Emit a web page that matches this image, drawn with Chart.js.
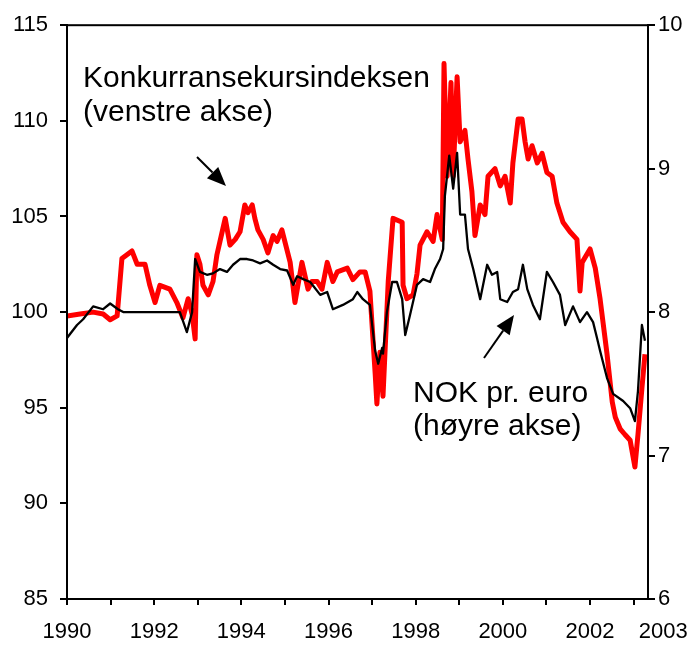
<!DOCTYPE html>
<html>
<head>
<meta charset="utf-8">
<script src="https://cdn.jsdelivr.net/npm/chart.js@4.4.1/dist/chart.umd.min.js"></script>
<style>
    body { margin: 0; background: #fff; }
    #wrap { width: 692px; height: 648px; }
</style>
</head>
<body>
<div id="wrap"><canvas id="kursChart"></canvas></div>
<script>
// Konkurransekursindeksen (venstre akse)
var redYears = [1990.00, 1990.30, 1990.60, 1990.83, 1990.99, 1991.15, 1991.26, 1991.49, 1991.61, 1991.79,
    1991.90, 1992.02, 1992.13, 1992.36, 1992.52, 1992.66, 1992.78, 1992.87, 1992.94, 1992.98,
    1993.05, 1993.12, 1993.24, 1993.35, 1993.44, 1993.51, 1993.63, 1993.74, 1993.86, 1993.97,
    1994.08, 1994.15, 1994.25, 1994.31, 1994.38, 1994.50, 1994.61, 1994.73, 1994.82, 1994.93,
    1995.12, 1995.23, 1995.39, 1995.53, 1995.62, 1995.74, 1995.85, 1995.97, 1996.10, 1996.20,
    1996.43, 1996.56, 1996.72, 1996.84, 1996.95, 1997.07, 1997.11, 1997.18, 1997.25, 1997.37,
    1997.48, 1997.69, 1997.71, 1997.80, 1997.94, 1998.03, 1998.10, 1998.26, 1998.40, 1998.49,
    1998.61, 1998.65, 1998.72, 1998.81, 1998.86, 1998.95, 1999.02, 1999.13, 1999.20, 1999.29,
    1999.36, 1999.48, 1999.59, 1999.66, 1999.82, 1999.94, 2000.05, 2000.17, 2000.23, 2000.35,
    2000.44, 2000.51, 2000.58, 2000.67, 2000.79, 2000.90, 2001.01, 2001.13, 2001.24, 2001.38,
    2001.54, 2001.70, 2001.77, 2001.82, 2002.00, 2002.12, 2002.23, 2002.39, 2002.51, 2002.58,
    2002.69, 2002.80, 2002.92, 2003.03, 2003.10, 2003.19, 2003.26];
var redValues = [99.8, 99.9, 100.0, 99.9, 99.6, 99.8, 102.8, 103.2, 102.5, 102.5,
    101.4, 100.5, 101.4, 101.2, 100.5, 99.7, 100.7, 99.9, 98.6, 103.0,
    102.5, 101.4, 100.9, 101.6, 103.0, 103.7, 104.9, 103.5, 103.8, 104.2,
    105.6, 105.2, 105.6, 104.9, 104.3, 103.8, 103.1, 104.0, 103.7, 104.3,
    102.6, 100.5, 102.6, 101.2, 101.6, 101.6, 101.2, 102.6, 101.6, 102.1,
    102.3, 101.7, 102.1, 102.1, 101.1, 96.8, 95.2, 97.9, 95.6, 101.6,
    104.9, 104.7, 101.4, 100.7, 100.9, 102.0, 103.5, 104.2, 103.7, 105.1,
    103.8, 113.0, 107.1, 112.0, 107.1, 112.3, 108.9, 109.5, 108.0, 106.3,
    104.0, 105.6, 105.1, 107.1, 107.5, 106.6, 107.1, 105.7, 107.8, 110.1,
    110.1, 108.9, 108.0, 108.7, 107.8, 108.3, 107.3, 107.1, 105.7, 104.7,
    104.2, 103.8, 101.1, 102.6, 103.3, 102.3, 100.7, 97.8, 95.3, 94.5,
    93.9, 93.6, 93.3, 91.9, 93.6, 96.0, 97.8];

// NOK pr. euro (høyre akse)
var nokYears = [1990.00, 1990.23, 1990.37, 1990.60, 1990.83, 1990.99, 1991.17, 1991.29, 1991.90, 1992.59,
    1992.75, 1992.87, 1992.94, 1993.05, 1993.21, 1993.35, 1993.51, 1993.67, 1993.81, 1993.97,
    1994.13, 1994.27, 1994.43, 1994.59, 1994.73, 1994.89, 1995.05, 1995.19, 1995.28, 1995.42,
    1995.58, 1995.81, 1995.97, 1996.10, 1996.33, 1996.56, 1996.66, 1996.79, 1996.95, 1997.07,
    1997.14, 1997.23, 1997.25, 1997.34, 1997.46, 1997.57, 1997.69, 1997.76, 1997.87, 1998.03,
    1998.17, 1998.33, 1998.44, 1998.56, 1998.63, 1998.67, 1998.77, 1998.86, 1998.95, 1999.02,
    1999.13, 1999.20, 1999.32, 1999.48, 1999.64, 1999.75, 1999.87, 1999.94, 2000.10, 2000.23,
    2000.35, 2000.46, 2000.56, 2000.69, 2000.85, 2001.01, 2001.15, 2001.31, 2001.43, 2001.61,
    2001.77, 2001.93, 2002.07, 2002.16, 2002.23, 2002.39, 2002.53, 2002.76, 2002.92, 2003.03,
    2003.10, 2003.19, 2003.26];
var nokValues = [7.82, 7.91, 7.95, 8.04, 8.02, 8.06, 8.02, 8.00, 8.00, 8.00,
    7.86, 8.00, 8.37, 8.28, 8.26, 8.27, 8.30, 8.28, 8.33, 8.37,
    8.37, 8.36, 8.34, 8.36, 8.33, 8.30, 8.29, 8.19, 8.25, 8.23,
    8.21, 8.12, 8.14, 8.02, 8.05, 8.09, 8.14, 8.09, 8.05, 7.73,
    7.64, 7.75, 7.71, 8.00, 8.21, 8.21, 8.09, 7.84, 7.98, 8.19,
    8.23, 8.21, 8.30, 8.37, 8.44, 8.81, 9.09, 8.86, 9.11, 8.68,
    8.68, 8.44, 8.30, 8.09, 8.33, 8.26, 8.28, 8.09, 8.07, 8.14,
    8.16, 8.33, 8.16, 8.05, 7.95, 8.28, 8.21, 8.12, 7.91, 8.04,
    7.93, 8.00, 7.93, 7.82, 7.73, 7.54, 7.43, 7.38, 7.33, 7.24,
    7.45, 7.91, 7.80];

// axis ticks
var tickYears = [1990, 1991, 1992, 1993, 1994, 1995, 1996, 1997, 1998, 1999, 2000, 2001, 2002, 2003];
var labelYears = [1990, 1992, 1994, 1996, 1998, 2000, 2002];
var endLabel = '2003';
var leftTicks = [85, 90, 95, 100, 105, 110, 115];
var rightTicks = [6, 7, 8, 9, 10];

var xMin = 1990, xMax = 2003.33, endLabelPos = 2003.68;
var fontFamily = '"Liberation Sans", Arial, sans-serif';

function toPoints(xs, ys) {
    return xs.map(function (x, i) { return { x: x, y: ys[i] }; });
}

function drawArrow(ctx, x1, y1, x2, y2) {
    var ang = Math.atan2(y2 - y1, x2 - x1);
    var head = 19, half = 8;
    var bx = x2 - head * Math.cos(ang), by = y2 - head * Math.sin(ang);
    ctx.beginPath();
    ctx.moveTo(x1, y1);
    ctx.lineTo(bx, by);
    ctx.lineWidth = 2;
    ctx.strokeStyle = '#000';
    ctx.stroke();
    ctx.beginPath();
    ctx.moveTo(x2, y2);
    ctx.lineTo(bx + half * Math.sin(ang), by - half * Math.cos(ang));
    ctx.lineTo(bx - half * Math.sin(ang), by + half * Math.cos(ang));
    ctx.closePath();
    ctx.fillStyle = '#000';
    ctx.fill();
}

var annotations = {
    id: 'annotations',
    afterDraw: function (chart) {
        var ctx = chart.ctx;
        var a = chart.chartArea;
        ctx.save();
        // frame
        ctx.strokeStyle = '#000';
        ctx.lineWidth = 2;
        ctx.strokeRect(a.left, a.top, a.right - a.left, a.bottom - a.top);
        // texts
        ctx.fillStyle = '#000';
        ctx.font = '30px ' + fontFamily;
        ctx.textBaseline = 'alphabetic';
        ctx.textAlign = 'left';
        ctx.fillText('Konkurransekursindeksen', 83, 87);
        ctx.fillText('(venstre akse)', 83, 121);
        ctx.fillText('NOK pr. euro', 413, 402);
        ctx.fillText('(høyre akse)', 413, 435);
        drawArrow(ctx, 197, 157, 226, 186);
        drawArrow(ctx, 484, 358, 514, 315);
        ctx.restore();
    }
};

var ctx = document.getElementById('kursChart').getContext('2d');
var kursChart = new Chart(ctx, {
    type: 'line',
    data: {
        datasets: [{
            label: 'NOK pr. euro',
            data: toPoints(nokYears, nokValues),
            yAxisID: 'yRight',
            borderColor: '#000',
            borderWidth: 2.3,
            pointRadius: 0,
            borderJoinStyle: 'round',
            fill: false
        }, {
            label: 'Konkurransekursindeksen',
            data: toPoints(redYears, redValues),
            yAxisID: 'yLeft',
            borderColor: '#ff0000',
            borderWidth: 5,
            pointRadius: 0,
            borderJoinStyle: 'round',
            fill: false
        }]
    },
    options: {
        responsive: true,
        maintainAspectRatio: false,
        animation: false,
        layout: { padding: { top: 23 } },
        plugins: { legend: { display: false }, tooltip: { enabled: false } },
        scales: {
            x: {
                type: 'linear',
                min: xMin,
                max: xMax,
                afterBuildTicks: function (scale) {
                    var t = tickYears.map(function (v) { return { value: v }; });
                    t.push({ value: endLabelPos });
                    scale.ticks = t;
                },
                afterFit: function (scale) {
                    scale.height = 49;
                    scale.paddingLeft = 0;
                    scale.paddingRight = 0;
                },
                ticks: {
                    autoSkip: false,
                    maxRotation: 0,
                    padding: 14,
                    color: '#000',
                    font: { size: 22, family: fontFamily },
                    callback: function (value) {
                        if (value > xMax) return endLabel;
                        return labelYears.indexOf(value) >= 0 ? String(value) : '';
                    }
                },
                grid: {
                    drawOnChartArea: false,
                    tickLength: 6,
                    lineWidth: 2,
                    color: function (c) {
                        return c.tick && c.tick.value > xMax ? 'rgba(0,0,0,0)' : '#000';
                    }
                },
                border: { display: true, color: '#000', width: 2 }
            },
            yLeft: {
                type: 'linear',
                position: 'left',
                min: 85,
                max: 115,
                afterBuildTicks: function (scale) {
                    scale.ticks = leftTicks.map(function (v) { return { value: v }; });
                },
                afterFit: function (scale) { scale.width = 67; },
                ticks: { padding: 12, color: '#000', font: { size: 22, family: fontFamily } },
                grid: { drawOnChartArea: false, tickLength: 7, lineWidth: 2, color: '#000' },
                border: { display: true, color: '#000', width: 2 }
            },
            yRight: {
                type: 'linear',
                position: 'right',
                min: 6,
                max: 10,
                afterBuildTicks: function (scale) {
                    scale.ticks = rightTicks.map(function (v) { return { value: v }; });
                },
                afterFit: function (scale) { scale.width = 44; },
                ticks: { padding: 3, color: '#000', font: { size: 22, family: fontFamily } },
                grid: { drawOnChartArea: false, tickLength: 7, lineWidth: 2, color: '#000' },
                border: { display: true, color: '#000', width: 2 }
            }
        }
    },
    plugins: [annotations]
});
</script>
</body>
</html>
